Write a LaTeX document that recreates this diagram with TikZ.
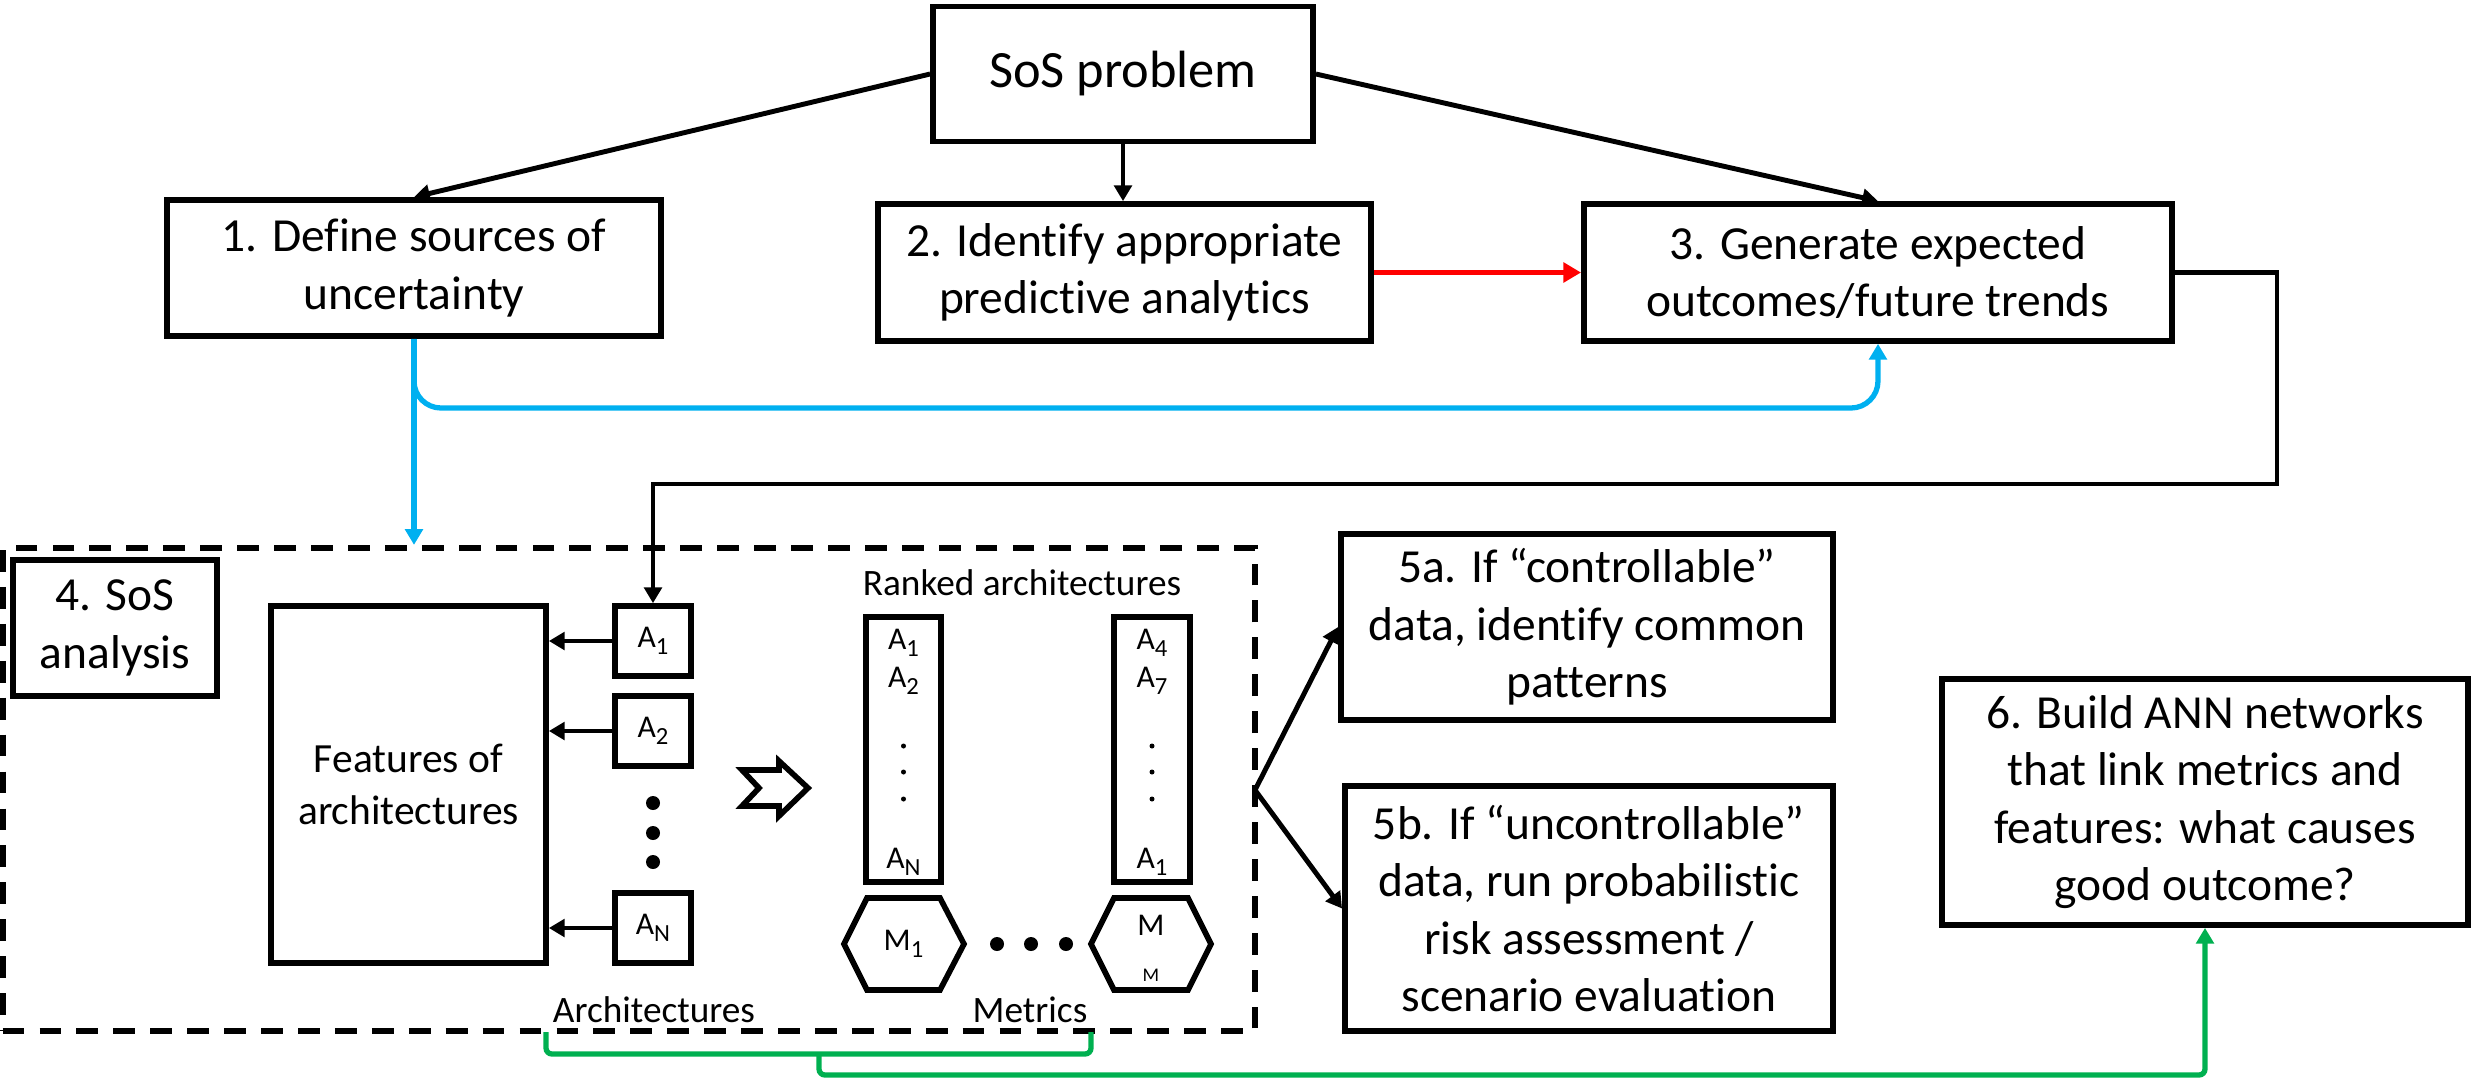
\documentclass[tikz,border=0pt]{standalone}
\usepackage{fontspec}
\setmainfont[Ligatures=NoCommon]{Carlito}
\usetikzlibrary{arrows.meta}
\definecolor{lblue}{RGB}{0,176,240}
\definecolor{ogreen}{RGB}{0,176,80}
\newcommand{\Asb}[1]{A\raisebox{-0.22em}{\fontsize{7}{8}\selectfont #1}}
\newcommand{\Msb}[1]{M\raisebox{-0.22em}{\fontsize{7}{8}\selectfont #1}}
\begin{document}
\begin{tikzpicture}[x=0.01cm,y=-0.01cm,
  box/.style={draw, line width=1.6pt, inner sep=0pt, align=center, font=\fontsize{13.5}{16.3}\selectfont},
  abox/.style={draw, line width=1.6pt, inner sep=0pt, minimum width=0.76cm, minimum height=0.70cm, font=\fontsize{9}{10}\selectfont},
  colbox/.style={draw, line width=1.6pt, inner sep=0pt, minimum height=2.65cm},
  small/.style={inner sep=0pt, font=\fontsize{9}{10}\selectfont},
  lbl/.style={inner sep=0pt, font=\fontsize{10.6}{12}\selectfont},
  arr/.style={line width=1.4pt, -{Triangle[length=4.5pt,width=5pt]}},
  blarr/.style={line width=1.5pt, lblue, -{Triangle[length=4.5pt,width=5pt]}},
  grline/.style={line width=1.5pt, ogreen},
  dashbox/.style={draw, line width=1.7pt, dash pattern=on 6.2pt off 4.3pt, inner sep=0pt},
  shp/.style={line width=1.6pt, line join=miter}
]
\useasboundingbox (0,0) rectangle (2478,1078);

% top row
\node[box, minimum width=3.80cm, minimum height=1.35cm, font=\fontsize{14.9}{17}\selectfont] (sos) at (1123,74) {SoS problem};
\node[box, minimum width=4.94cm, minimum height=1.36cm] (b1) at (414,268) {1. Define sources of\\uncertainty};
\node[box, minimum width=4.93cm, minimum height=1.37cm] (b2) at (1124.5,272.5) {2. Identify appropriate\\predictive analytics};
\node[box, minimum width=5.88cm, minimum height=1.37cm] (b3) at (1878,272.5) {3. Generate expected\\outcomes/future trends};

\draw[arr] (sos.west) -- (b1.north);
\draw[arr] (sos.east) -- (b3.north);
\draw[arr] (sos.south) -- (sos.south |- b2.north);
\draw[line width=1.7pt, red, -{Triangle[length=5pt,width=5.5pt]}] (b2.east) -- (b3.west);

% analysis area
\node[dashbox, minimum width=12.52cm, minimum height=4.83cm] (ana) at (629,789.5) {};
\node[box, minimum width=2.04cm, minimum height=1.36cm] (s4) at (115,628) {4. SoS\\analysis};
\node[box, minimum width=2.75cm, minimum height=3.57cm, font=\fontsize{11.8}{14.7}\selectfont] (feat) at (408.5,784.5) {Features of\\architectures};
\node[abox] (a1) at (653,641) {\Asb{1}};
\node[abox] (a2) at (653,731) {\Asb{2}};
\node[abox] (an) at (653,928) {\Asb{N}};
\draw[arr] (a1.west) -- (a1.west -| feat.east);
\draw[arr] (a2.west) -- (a2.west -| feat.east);
\draw[arr] (an.west) -- (an.west -| feat.east);
\foreach \yy in {803,833,862} \fill (653,\yy) circle (0.07cm);

% hollow block arrow
\draw[shp] (742,770) -- (779,770) -- (779,761) -- (808,788) -- (779,816) -- (779,806) -- (742,806) -- (759,788) -- cycle;

% ranked columns
\node[lbl] (rank) at (1022,583) {Ranked architectures};
\node[colbox, minimum width=0.75cm] (colA) at (903.5,749.5) {};
\node[colbox, minimum width=0.76cm] (colB) at (1152,749.5) {};
\node[small] (ca1) at (903.5,643) {\Asb{1}};
\node[small] (ca2) at (903.5,681) {\Asb{2}};
\node[small] (can) at (903.5,862) {\Asb{N}};
\node[small] (cb1) at (1152,643) {\Asb{4}};
\node[small] (cb2) at (1152,681) {\Asb{7}};
\node[small] (cbn) at (1152,862) {\Asb{1}};
\foreach \yy in {746,772,799} {\fill (903.5,\yy) circle (0.025cm); \fill (1152,\yy) circle (0.025cm);}

% hexagons
\draw[shp] (867,898) -- (940,898) -- (964,944) -- (940,990) -- (867,990) -- (844,944) -- cycle;
\node[small] (h1) at (903.5,944) {\Msb{1}};
\draw[shp] (1114,898) -- (1188,898) -- (1211,944) -- (1188,990) -- (1114,990) -- (1091,944) -- cycle;
\node[small] (hm) at (1151,925) {M};
\node[inner sep=0pt, font=\fontsize{5.5}{6}\selectfont] (hmsub) at (1151,975) {M};
\foreach \xx in {997,1031,1066} \fill (\xx,944) circle (0.07cm);

\node[lbl] (archl) at (654,1010) {Architectures};
\node[lbl] (metl) at (1030,1010) {Metrics};

% blue connectors
\coordinate (bl) at (0,408);
\draw[blarr] (b1.south) -- (b1.south |- ana.north);
\draw[blarr, rounded corners=0.27cm] (b1.south) -- (b1.south |- bl) -- (b3.south |- bl) -- (b3.south);

% black connector from 3 to A1
\coordinate (r1) at (2277,484);
\draw[arr] (b3.east) -| (r1) -| (a1.north);

% step 5
\node[box, minimum width=4.92cm, minimum height=1.86cm] (c5a) at (1587,627) {5a. If “controllable”\\data, identify common\\patterns};
\node[box, minimum width=4.88cm, minimum height=2.45cm] (c5b) at (1589,908.5) {5b. If “uncontrollable”\\data, run probabilistic\\risk assessment /\\scenario evaluation};
\coordinate (split) at (1255,790);
\draw[arr] (split) -- (c5a.west);
\draw[arr] (split) -- (c5b.west);

% step 6
\node[box, minimum width=5.26cm, minimum height=2.46cm] (b6) at (2205,802) {6. Build ANN networks\\that link metrics and\\features: what causes\\good outcome?};

% green bracket
\coordinate (g1) at (546,1032);
\coordinate (g2) at (1091,1032);
\coordinate (gm) at (819,1054);
\coordinate (gb) at (819,1075);
\draw[grline, rounded corners=0.06cm] (g1) -- (g1 |- gm) -- (g2 |- gm) -- (g2);
\draw[grline, rounded corners=0.06cm, -{Triangle[length=4.5pt,width=5pt]}] (gm) -- (gb) -- (gb -| b6.south) -- (b6.south);
\end{tikzpicture}
\end{document}
